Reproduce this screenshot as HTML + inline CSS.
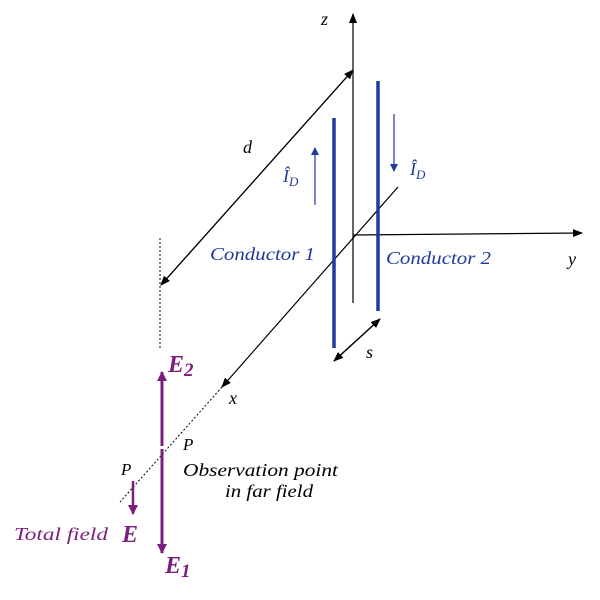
<!DOCTYPE html>
<html><head><meta charset="utf-8"><style>
body{margin:0;background:#fff;width:600px;height:595px;overflow:hidden}
svg text{font-family:"Liberation Serif",serif;font-style:italic}
</style></head><body>
<svg width="600" height="595" viewBox="0 0 600 595" xmlns="http://www.w3.org/2000/svg">
<defs>
<marker id="ak" markerWidth="10" markerHeight="8" refX="9" refY="4" orient="auto" markerUnits="userSpaceOnUse"><path d="M0,0 L10,4 L0,8 z" fill="#000"/></marker>
<marker id="ab" markerWidth="8" markerHeight="8" refX="7" refY="4" orient="auto" markerUnits="userSpaceOnUse"><path d="M0,0 L8,4 L0,8 z" fill="#1f3a9a"/></marker>
<marker id="ap" markerWidth="10" markerHeight="10" refX="9" refY="5" orient="auto" markerUnits="userSpaceOnUse"><path d="M0,0 L10,5 L0,10 z" fill="#7b1f7d"/></marker>
</defs>
<line x1="353" y1="303" x2="353" y2="14" stroke="#000" stroke-width="1.2" marker-end="url(#ak)"/>
<line x1="353" y1="235" x2="582" y2="233" stroke="#000" stroke-width="1.2" marker-end="url(#ak)"/>
<line x1="398" y1="187" x2="222" y2="387" stroke="#000" stroke-width="1.2" marker-end="url(#ak)"/>
<line x1="222" y1="387" x2="120" y2="502" stroke="#000" stroke-width="1" stroke-dasharray="2,2"/>
<line x1="160" y1="238" x2="160" y2="348" stroke="#000" stroke-width="1" stroke-dasharray="2,2"/>
<line x1="353" y1="70" x2="161" y2="285" stroke="#000" stroke-width="1.2" marker-end="url(#ak)"/>
<line x1="161" y1="285" x2="353" y2="70" stroke="#000" stroke-width="1.2" marker-end="url(#ak)"/>
<line x1="380" y1="319" x2="334" y2="361" stroke="#000" stroke-width="1.2" marker-end="url(#ak)"/>
<line x1="334" y1="361" x2="380" y2="319" stroke="#000" stroke-width="1.2" marker-end="url(#ak)"/>
<line x1="334" y1="118" x2="334" y2="348" stroke="#1f3a9a" stroke-width="3.5"/>
<line x1="378" y1="81" x2="378" y2="311" stroke="#1f3a9a" stroke-width="3.5"/>
<line x1="315" y1="205" x2="315" y2="148" stroke="#1f3a9a" stroke-width="1.2" marker-end="url(#ab)"/>
<line x1="394" y1="114" x2="394" y2="171" stroke="#1f3a9a" stroke-width="1.2" marker-end="url(#ab)"/>
<line x1="162" y1="446" x2="162" y2="372" stroke="#7b1f7d" stroke-width="3" marker-end="url(#ap)"/>
<line x1="162" y1="449" x2="162" y2="553" stroke="#7b1f7d" stroke-width="3" marker-end="url(#ap)"/>
<line x1="133" y1="481" x2="133" y2="514" stroke="#7b1f7d" stroke-width="2.5" marker-end="url(#ap)"/>
<g font-size="18" fill="#000">
<text x="321" y="25">z</text>
<text x="243" y="153">d</text>
<text x="568" y="265">y</text>
<text x="366" y="358">s</text>
<text x="229" y="404">x</text>
<text x="183" y="450" font-size="17">P</text>
<text x="121" y="475" font-size="17">P</text>
<text x="183" y="476" font-size="18" textLength="155" lengthAdjust="spacingAndGlyphs">Observation point</text>
<text x="225" y="497" font-size="18" textLength="88" lengthAdjust="spacingAndGlyphs">in far field</text>
</g>
<g fill="#1f3a9a" font-size="18">
<text x="283" y="182">Î<tspan font-size="13" dy="4">D</tspan></text>
<text x="410" y="175">Î<tspan font-size="13" dy="4">D</tspan></text>
<text x="210" y="260" textLength="105" lengthAdjust="spacingAndGlyphs">Conductor 1</text>
<text x="386" y="264" textLength="105" lengthAdjust="spacingAndGlyphs">Conductor 2</text>
</g>
<g fill="#7b1f7d" font-weight="bold">
<text x="168" y="372" font-size="24">E<tspan font-size="19" dy="4">2</tspan></text>
<text x="165" y="573" font-size="24">E<tspan font-size="19" dy="4">1</tspan></text>
<text x="122" y="542" font-size="24">E</text>
</g>
<text x="14" y="540" font-size="18" fill="#7b1f7d" textLength="94" lengthAdjust="spacingAndGlyphs">Total field</text>
</svg>
</body></html>
